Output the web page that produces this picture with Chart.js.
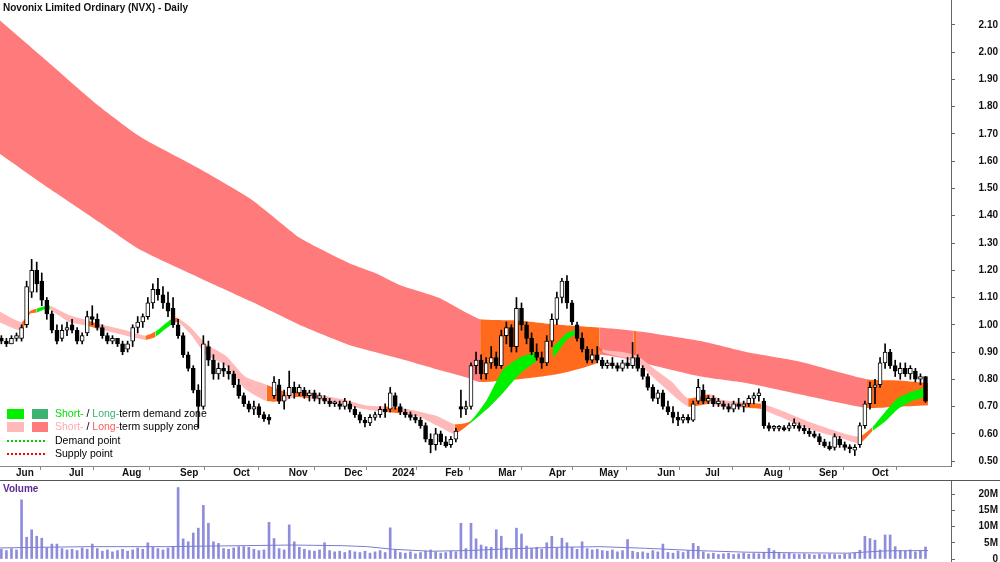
<!DOCTYPE html>
<html>
<head>
<meta charset="utf-8">
<script src="https://cdn.jsdelivr.net/npm/chart.js@4.4.1/dist/chart.umd.min.js"></script>
<style>
  html, body { margin: 0; padding: 0; background: #fff; }
  #wrap { position: relative; width: 1000px; height: 562px; overflow: hidden; }
  #priceBox { position: absolute; left: 0; top: 0; width: 1000px; height: 481px; }
  #sep { position: absolute; left: 0; top: 480px; width: 1000px; height: 1px; background: #555; }
  #volBox { position: absolute; left: 0; top: 481px; width: 1000px; height: 81px; }
</style>
</head>
<body>
<div id="wrap">
  <div id="priceBox"><canvas id="priceChart" width="1000" height="481"></canvas></div>
  <div id="sep"></div>
  <div id="volBox"><canvas id="volChart" width="1000" height="81"></canvas></div>
</div>
<script>
// Novonix (NVX) daily - two trading days per bar, x = trading day index (0 = 1 Jun 2023)

const monthNames = ['Jun', 'Jul', 'Aug', 'Sep', 'Oct', 'Nov', 'Dec', '2024', 'Feb', 'Mar', 'Apr', 'May', 'Jun', 'Jul', 'Aug', 'Sep', 'Oct'];
const monthDays = [0, 21, 42, 65, 86, 108, 130, 149, 170, 191, 211, 231, 254, 273, 296, 318, 339];

const priceTicks = [0.5, 0.6, 0.7, 0.8, 0.9, 1.0, 1.1, 1.2, 1.3, 1.4, 1.5, 1.6, 1.7, 1.8, 1.9, 2.0, 2.1];
const volTicks = [0, 5, 10, 15, 20];

// price bars, first bar on day -5, one bar every 2 trading days
const opens = [
  .95, .94, .93, .95, .95, 1.00, 1.12, 1.20, 1.16, 1.09,
  1.04, .98, .95, .98, 1.00, .98, .94, .97, 1.03, 1.02,
  .99, .96, .94, .95, .93, .91, .94, .99, 1.01, 1.03,
  1.08, 1.13, 1.11, 1.08, 1.06, 1.00, .96, .89, .84, .76,
  .70, .92, .87, .82, .84, .83, .82, .78, .74, .71,
  .69, .70, .67, .66, .74, .78, .72, .74, .77, .75,
  .76, .74, .75, .73, .73, .72, .71, .71, .70, .71,
  .69, .67, .65, .64, .66, .67, .69, .69, .74, .70,
  .68, .67, .66, .65, .63, .58, .56, .60, .57, .56,
  .58, .70, .69, .70, .85, .87, .82, .86, .88, .85,
  .96, .99, .92, 1.06, 1.00, .95, .90, .88, .86, .94,
  1.02, 1.10, 1.16, 1.08, 1.00, .95, .91, .87, .89, .87,
  .85, .86, .85, .84, .86, .85, .88, .84, .81, .77,
  .73, .75, .70, .68, .66, .65, .66, .65, .72, .76,
  .72, .73, .71, .71, .70, .69, .71, .70, .71, .73,
  .74, .72, .63, .62, .62, .62, .62, .63, .63, .62,
  .61, .60, .59, .57, .555, .55, .58, .56, .55, .54,
  .56, .63, .71, .77, .78, .86, .90, .85, .82, .84,
  .82, .83, .80, .81
];
const highs = [
  .96, .95, .96, .97, 1.00, 1.16, 1.24, 1.23, 1.19, 1.10,
  1.05, 1.00, 1.00, 1.01, 1.02, .99, .97, 1.05, 1.07, 1.04,
  1.00, .97, .96, .95, .94, .94, 1.00, 1.03, 1.04, 1.10,
  1.15, 1.17, 1.14, 1.12, 1.10, 1.02, .97, .90, .85, .78,
  .96, .94, .89, .86, .86, .85, .83, .80, .75, .72,
  .72, .71, .68, .67, .81, .80, .76, .83, .79, .78,
  .77, .76, .76, .75, .74, .73, .72, .72, .73, .72,
  .70, .68, .66, .67, .68, .70, .71, .77, .75, .71,
  .69, .68, .67, .66, .64, .60, .62, .61, .59, .59,
  .62, .76, .72, .86, .90, .89, .88, .92, .90, .98,
  1.01, 1.00, 1.10, 1.08, 1.01, .97, .93, .90, .96, 1.04,
  1.12, 1.17, 1.18, 1.09, 1.01, .97, .92, .91, .92, .88,
  .87, .88, .86, .87, .88, .935, .89, .85, .82, .78,
  .76, .76, .72, .70, .68, .67, .67, .72, .80, .78,
  .74, .74, .73, .72, .71, .72, .73, .72, .74, .75,
  .765, .73, .64, .63, .63, .63, .64, .655, .64, .63,
  .62, .61, .60, .58, .57, .60, .59, .57, .56, .56,
  .64, .72, .79, .80, .88, .93, .91, .87, .86, .86,
  .85, .84, .82, .81
];
const lows = [
  .93, .92, .93, .94, .94, .99, 1.10, 1.12, 1.07, 1.02,
  .97, .93, .94, .96, .97, .93, .93, .96, 1.00, .98,
  .95, .93, .93, .92, .89, .90, .92, .97, .99, 1.02,
  1.06, 1.09, 1.06, 1.03, .99, .95, .88, .83, .75, .62,
  .69, .85, .80, .80, .81, .80, .77, .73, .70, .68,
  .67, .66, .645, .635, .73, .71, .69, .73, .73, .74,
  .73, .72, .72, .71, .71, .70, .70, .69, .69, .68,
  .66, .64, .625, .63, .65, .66, .66, .68, .69, .67,
  .66, .65, .64, .62, .57, .53, .54, .56, .55, .55,
  .57, .66, .67, .69, .82, .80, .80, .84, .84, .84,
  .93, .90, .90, .98, .93, .89, .87, .84, .85, .92,
  1.00, 1.08, 1.06, 1.00, .94, .90, .86, .86, .86, .84,
  .84, .84, .83, .83, .84, .84, .83, .80, .76, .72,
  .71, .69, .67, .64, .63, .64, .64, .645, .71, .71,
  .71, .70, .70, .69, .68, .68, .69, .68, .70, .71,
  .72, .62, .61, .61, .61, .61, .61, .62, .61, .60,
  .59, .585, .56, .55, .54, .54, .55, .54, .53, .52,
  .55, .62, .69, .71, .77, .84, .84, .81, .80, .81,
  .80, .79, .78, .715
];
const closes = [
  .94, .93, .95, .96, .99, 1.14, 1.20, 1.15, 1.09, 1.04,
  .98, .94, .98, .99, .98, .94, .96, 1.03, 1.02, .99,
  .96, .94, .95, .93, .90, .93, .99, 1.01, 1.03, 1.08,
  1.13, 1.11, 1.08, 1.05, 1.00, .96, .89, .84, .76, .70,
  .93, .87, .82, .84, .83, .82, .78, .74, .71, .69,
  .70, .67, .655, .65, .79, .72, .74, .77, .75, .77,
  .74, .75, .73, .74, .72, .71, .71, .70, .72, .69,
  .67, .65, .64, .66, .67, .69, .68, .75, .70, .68,
  .67, .66, .65, .63, .58, .56, .60, .57, .555, .58,
  .61, .69, .70, .85, .87, .82, .86, .88, .85, .96,
  .99, .92, 1.06, 1.00, .95, .90, .88, .86, .94, 1.02,
  1.10, 1.16, 1.08, 1.01, .95, .91, .87, .89, .87, .85,
  .86, .85, .84, .86, .85, .88, .84, .81, .77, .73,
  .75, .70, .68, .66, .65, .66, .65, .71, .77, .72,
  .73, .71, .72, .70, .69, .71, .70, .71, .73, .74,
  .75, .63, .62, .62, .62, .615, .63, .64, .62, .61,
  .60, .59, .57, .555, .545, .59, .56, .55, .545, .55,
  .63, .71, .77, .78, .86, .90, .85, .83, .84, .82,
  .84, .80, .81, .72
];
// volume in millions, same bars
const volumes = [
  3.0, 2.6, 3.2, 2.8, 18.2, 6.7, 9.0, 7.0, 6.4, 3.5,
  4.6, 4.6, 3.2, 2.8, 3.0, 2.6, 3.4, 3.0, 4.6, 3.2,
  2.4, 2.8, 2.2, 2.6, 3.0, 2.4, 2.8, 3.4, 3.0, 5.0,
  3.6, 3.2, 2.8, 3.4, 3.8, 22.0, 6.2, 5.3, 8.0, 9.5,
  16.5, 11.0, 5.3, 4.8, 3.2, 3.0, 3.4, 3.8, 3.8, 3.6,
  3.0, 2.6, 2.8, 11.3, 6.3, 3.2, 2.8, 10.5, 5.3, 3.6,
  3.0, 2.6, 2.4, 2.8, 5.0, 2.6, 2.2, 2.4, 2.0, 2.6,
  2.2, 2.0, 2.4, 1.8, 2.2, 2.6, 2.0, 9.6, 2.8, 2.0,
  1.8, 2.2, 1.6, 2.0, 2.4, 2.8, 2.2, 1.8, 2.0, 2.4,
  2.2, 11.0, 3.2, 11.0, 6.2, 4.3, 3.8, 3.6, 9.0, 7.0,
  3.4, 3.0, 9.5, 7.7, 4.0, 3.2, 3.6, 3.0, 5.0, 7.0,
  3.4, 6.4, 5.0, 3.6, 3.0, 5.3, 3.2, 2.8, 3.0, 2.6,
  2.4, 2.8, 2.2, 2.6, 6.0, 2.4, 2.0, 2.2, 1.8, 2.6,
  2.2, 4.6, 2.0, 1.8, 2.4, 2.0, 2.6, 4.8, 3.9, 2.2,
  1.6, 1.8, 1.4, 1.6, 1.8, 1.4, 1.6, 1.8, 1.5, 1.7,
  1.6, 2.0, 3.3, 2.6, 2.0, 1.6, 1.8, 1.5, 1.4, 1.6,
  1.4, 1.2, 1.5, 1.3, 1.6, 1.4, 1.2, 1.5, 1.6, 1.8,
  2.7, 7.0, 6.3, 5.8, 2.8, 7.4, 7.4, 3.8, 2.6, 2.4,
  2.8, 2.2, 2.6, 3.7
];
const volMaDays = [-6, 10, 30, 60, 80, 110, 130, 140, 150, 165, 180, 195, 215, 232, 250, 270, 290, 310, 330, 345, 362];
const volMa = [3.4, 3.6, 3.8, 3.8, 4.0, 4.3, 4.1, 3.8, 3.0, 2.4, 2.6, 3.1, 3.6, 3.8, 3.3, 2.6, 2.1, 1.9, 1.8, 2.5, 2.6];

// long-term zone (zone code colours the segment that starts at the point)
const ltDays  = [-6, 14, 34, 50, 74, 94, 113, 122, 133, 143, 153, 168, 180, 184.6, 200, 216, 231, 232, 245.5, 246.7, 252, 272, 290, 311, 337.8, 351, 362];
const ltUpper = [2.12, 1.96, 1.80, 1.69, 1.57, 1.46, 1.32, 1.275, 1.225, 1.19, 1.145, 1.10, 1.04, 1.02, 1.015, 1.00, 0.99, 0.99, 0.978, 0.976, 0.97, 0.94, 0.90, 0.865, 0.80, 0.795, 0.785];
const ltLower = [1.63, 1.50, 1.375, 1.275, 1.17, 1.085, 1.00, 0.965, 0.925, 0.90, 0.875, 0.835, 0.805, 0.79, 0.80, 0.82, 0.86, 0.89, 0.87, 0.868, 0.853, 0.81, 0.786, 0.745, 0.695, 0.70, 0.705];
const ltZone  = ['r','r','r','r','r','r','r','r','r','r','r','r','r','o','o','o','o','r','o','r','r','r','r','r','o','o','o'];

// short-term zone
const stDays  = [-6, 3, 6.3, 9, 13, 14.3, 22, 29.5, 33, 42, 52, 56, 60, 63, 65, 70, 76, 84, 91.5, 100, 107, 111, 117, 131, 139, 147, 153, 161, 167.5, 174.5, 180.6, 187.3, 193.7, 200.4, 207, 213.5, 219, 223.4, 233, 241, 247, 254, 260.6, 267, 275.6, 280, 289.5, 296, 302.6, 316, 329, 335, 340, 345, 350, 355.6, 361];
const stUpper = [1.05, 1.01, 1.05, 1.06, 1.07, 1.07, 1.035, 1.015, 1.005, 0.985, 0.96, 0.975, 1.005, 1.025, 1.025, 0.99, 0.93, 0.885, 0.81, 0.78, 0.755, 0.755, 0.75, 0.725, 0.705, 0.70, 0.695, 0.68, 0.665, 0.635, 0.645, 0.725, 0.835, 0.88, 0.90, 0.92, 0.97, 0.98, 0.91, 0.90, 0.885, 0.835, 0.79, 0.73, 0.745, 0.725, 0.715, 0.71, 0.69, 0.64, 0.60, 0.59, 0.625, 0.68, 0.73, 0.755, 0.77];
const stLower = [1.01, 0.98, 1.04, 1.045, 1.06, 1.055, 1.01, 0.995, 0.985, 0.965, 0.945, 0.955, 0.985, 1.005, 1.01, 0.965, 0.89, 0.85, 0.765, 0.72, 0.72, 0.735, 0.73, 0.705, 0.69, 0.68, 0.675, 0.66, 0.63, 0.60, 0.638, 0.69, 0.75, 0.82, 0.865, 0.88, 0.945, 0.965, 0.90, 0.88, 0.86, 0.80, 0.745, 0.70, 0.71, 0.70, 0.695, 0.69, 0.665, 0.615, 0.58, 0.565, 0.61, 0.645, 0.69, 0.72, 0.735];
const stZone  = ['p','o','o','g','g','p','p','o','p','p','o','g','g','o','p','p','p','p','p','o','p','o','p','p','p','o','p','p','p','o','g','g','g','g','o','g','g','o','p','p','p','p','p','o','p','p','o','p','p','p','p','o','g','g','g','g','g'];

const zoneColors = { r: '#ff7b7b', o: '#ff6a1c', p: '#ffb9b9', g: '#00f000' };
const FONT = '"Liberation Sans", Arial, Helvetica, sans-serif';

const barDays = closes.map((c, i) => -5 + 2 * i);
const X_MIN = -5.54, X_MAX = 371.1;

const xy = (xs, ys) => xs.map((x, i) => ({ x: x, y: ys[i] }));

// stop Chart.js from reserving room for overflowing tick labels
const noPad = s => { s.paddingTop = 0; s.paddingBottom = 0; s.paddingLeft = 0; s.paddingRight = 0; };

function bandDatasets(days, upper, lower, zone, order) {
  return [
    {
      type: 'line', data: xy(days, upper), borderWidth: 0, pointRadius: 0,
      fill: false, tension: 0.2, order: order + 1
    },
    {
      type: 'line', data: xy(days, lower), borderWidth: 0, pointRadius: 0,
      fill: '-1', tension: 0.2, order: order,
      backgroundColor: zoneColors[zone[0]],
      segment: { backgroundColor: c => zoneColors[zone[c.p0DataIndex]] }
    }
  ];
}

// legend + title drawn on the price canvas
const priceDecor = {
  id: 'priceDecor',
  afterDatasetsDraw(chart) {
    const ctx = chart.ctx;
    ctx.save();
    ctx.textBaseline = 'middle';
    ctx.font = '10.5px ' + FONT;

    const rows = [
      { y: 414, boxes: ['#00f000', '#3cb371'], parts: [['Short-', '#00dd00'], [' / ', '#000'], ['Long-', '#3cb371'], ['term demand zone', '#000']] },
      { y: 427, boxes: ['#ffb9b9', '#ff7b7b'], parts: [['Short-', '#ffaaaa'], [' / ', '#000'], ['Long-', '#ff5a5a'], ['term supply zone', '#000']] },
      { y: 441, dash: '#00cc00', parts: [['Demand point', '#000']] },
      { y: 454, dash: '#ff0000', parts: [['Supply point', '#000']] }
    ];
    rows.forEach(r => {
      if (r.boxes) {
        ctx.fillStyle = r.boxes[0];
        ctx.fillRect(7, r.y - 5, 17, 10);
        ctx.fillStyle = r.boxes[1];
        ctx.fillRect(32, r.y - 5, 16, 10);
      } else {
        ctx.strokeStyle = r.dash;
        ctx.lineWidth = 2;
        ctx.setLineDash([2, 2]);
        ctx.beginPath();
        ctx.moveTo(7, r.y);
        ctx.lineTo(47, r.y);
        ctx.stroke();
        ctx.setLineDash([]);
      }
      let x = 55;
      r.parts.forEach(p => {
        ctx.fillStyle = p[1];
        ctx.fillText(p[0], x, r.y);
        x += ctx.measureText(p[0]).width;
      });
    });

    ctx.font = 'bold 10px ' + FONT;
    ctx.fillStyle = '#111';
    ctx.fillText('Novonix Limited Ordinary (NVX) - Daily', 3, 8);
    ctx.restore();
  }
};

new Chart(document.getElementById('priceChart'), {
  type: 'bar',
  data: {
    datasets: [
      ...bandDatasets(ltDays, ltUpper, ltLower, ltZone, 9),
      ...bandDatasets(stDays, stUpper, stLower, stZone, 6),
      {
        type: 'bar',
        data: barDays.map((d, i) => ({ x: d, y: [lows[i], highs[i]] })),
        backgroundColor: '#000',
        barThickness: 1,
        grouped: false,
        order: 2
      },
      {
        type: 'bar',
        data: barDays.map((d, i) => ({ x: d, y: [opens[i], closes[i]] })),
        backgroundColor: closes.map((c, i) => c >= opens[i] ? '#ffffff' : '#000000'),
        borderColor: '#000',
        borderWidth: 1,
        borderSkipped: false,
        barThickness: 4,
        minBarLength: 2,
        grouped: false,
        order: 1
      }
    ]
  },
  options: {
    responsive: false,
    animation: false,
    layout: { padding: { left: 0, right: 2, top: 0, bottom: 0 } },
    plugins: { legend: { display: false }, tooltip: { enabled: false } },
    scales: {
      x: {
        type: 'linear',
        min: X_MIN,
        max: X_MAX,
        offset: false,
        afterFit: s => { s.height = 15; noPad(s); },
        afterBuildTicks: s => { s.ticks = monthDays.map(v => ({ value: v })); },
        grid: { drawOnChartArea: false, drawTicks: true, tickLength: 4, color: '#888' },
        border: { color: '#888' },
        ticks: {
          autoSkip: false,
          maxRotation: 0,
          align: 'start',
          labelOffset: 2,
          padding: -3,
          color: '#111',
          font: { family: FONT, size: 10, weight: 'bold' },
          callback: (v, i) => monthNames[i]
        }
      },
      y: {
        position: 'right',
        min: 0.4817,
        max: 2.1917,
        afterFit: s => { s.width = 47; noPad(s); },
        afterBuildTicks: s => { s.ticks = priceTicks.map(v => ({ value: v })); },
        grid: { drawOnChartArea: false, drawTicks: true, tickLength: 4, color: '#666' },
        border: { color: '#666' },
        ticks: {
          crossAlign: 'far',
          color: '#111',
          font: { family: FONT, size: 10, weight: 'bold' },
          callback: v => v.toFixed(2)
        }
      }
    }
  },
  plugins: [priceDecor]
});

const volDecor = {
  id: 'volDecor',
  afterDraw(chart) {
    const ctx = chart.ctx;
    ctx.save();
    ctx.font = 'bold 10px ' + FONT;
    ctx.fillStyle = '#5b2a93';
    ctx.textBaseline = 'middle';
    ctx.fillText('Volume', 3, 8);
    ctx.restore();
  }
};

new Chart(document.getElementById('volChart'), {
  type: 'bar',
  data: {
    datasets: [
      {
        type: 'line',
        data: xy(volMaDays, volMa),
        borderColor: '#7b7bd2',
        borderWidth: 1,
        pointRadius: 0,
        fill: false,
        order: 1
      },
      {
        type: 'bar',
        data: barDays.map((d, i) => ({ x: d, y: volumes[i] })),
        backgroundColor: '#8d8ddc',
        barThickness: 2,
        grouped: false,
        order: 2
      }
    ]
  },
  options: {
    responsive: false,
    animation: false,
    layout: { padding: { left: 0, right: 2, top: 0, bottom: 0 } },
    plugins: { legend: { display: false }, tooltip: { enabled: false } },
    scales: {
      x: { type: 'linear', min: X_MIN, max: X_MAX, offset: false, display: false },
      y: {
        position: 'right',
        min: -0.92,
        max: 24.0,
        afterFit: s => { s.width = 47; noPad(s); },
        afterBuildTicks: s => { s.ticks = volTicks.map(v => ({ value: v })); },
        grid: { drawOnChartArea: false, drawTicks: true, tickLength: 4, color: '#666' },
        border: { color: '#666' },
        ticks: {
          crossAlign: 'far',
          color: '#111',
          font: { family: FONT, size: 10, weight: 'bold' },
          callback: v => v === 0 ? '0' : v + 'M'
        }
      }
    }
  },
  plugins: [volDecor]
});
</script>
</body>
</html>
